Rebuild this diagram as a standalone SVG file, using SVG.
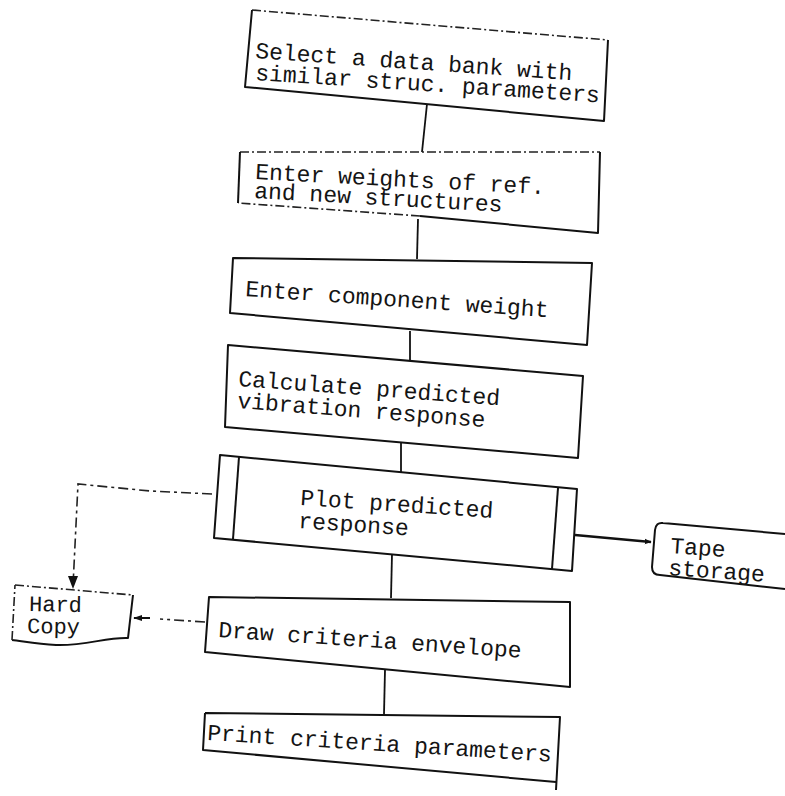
<svg xmlns="http://www.w3.org/2000/svg" width="785" height="796" viewBox="0 0 785 796">
  <defs>
    <style>
      .box { fill: none; stroke: #111; stroke-width: 2; stroke-linejoin: round; }
      .edge { fill: none; stroke: #111; stroke-width: 2; }
      .dash { fill: none; stroke: #222; stroke-width: 1.6; stroke-dasharray: 9 3 2 3; }
      .link { fill: none; stroke: #111; stroke-width: 1.8; }
      .dlink { fill: none; stroke: #222; stroke-width: 1.6; stroke-dasharray: 10 4 3 4; }
      .lbl { font-family: "Liberation Mono", "DejaVu Sans Mono", monospace; font-size: 23px; fill: #141414; }
      .lbl2 { font-family: "Liberation Mono", "DejaVu Sans Mono", monospace; font-size: 22px; fill: #141414; }
    </style>
    <marker id="ahead" viewBox="0 0 10 10" refX="9" refY="5" markerWidth="7" markerHeight="7" orient="auto" markerUnits="userSpaceOnUse">
      <path d="M0,1 L10,5 L0,9 Z" fill="#111"/>
    </marker>
    <marker id="ahead2" viewBox="0 0 10 10" refX="9" refY="5" markerWidth="9" markerHeight="9" orient="auto" markerUnits="userSpaceOnUse">
      <path d="M0,1.5 L10,5 L0,8.5 Z" fill="#111"/>
    </marker>
  </defs>

  <rect x="0" y="0" width="785" height="796" fill="#ffffff"/>

  <!-- connectors -->
  <g id="connectors">
    <line class="link" x1="427" y1="104" x2="422" y2="152"/>
    <line class="link" x1="418" y1="219" x2="417" y2="259"/>
    <line class="link" x1="410" y1="331" x2="410" y2="360"/>
    <line class="link" x1="401" y1="443" x2="401" y2="473"/>
    <line class="link" x1="392" y1="554" x2="391" y2="598"/>
    <line class="link" x1="385" y1="670" x2="384" y2="714"/>
    <!-- plot -> tape storage -->
    <line x1="575" y1="535" x2="651" y2="542" stroke="#111" stroke-width="2.4" marker-end="url(#ahead)"/>
    <!-- plot -> hard copy -->
    <polyline class="dlink" points="212,494 150,491 78,484 73,586"/>
    <path d="M68,576 L73,589 L78,576 Z" fill="#111"/>
    <!-- draw envelope -> hard copy -->
    <line class="dlink" x1="205" y1="622" x2="160" y2="619"/>
    <line x1="150" y1="618" x2="134" y2="618" stroke="#111" stroke-width="2" marker-end="url(#ahead2)"/>
  </g>

  <!-- Select a data bank -->
  <g id="n-select">
    <path class="dash" d="M252,10 L608,40"/>
    <path class="box" d="M608,40 L604,121 L245,87 L252,10"/>
    <text class="lbl" x="255" y="58" transform="rotate(4 255 58)">Select a data bank with</text>
    <text class="lbl" x="255" y="80" transform="rotate(3.7 255 80)">similar struc. parameters</text>
  </g>

  <!-- Enter weights -->
  <g id="n-weights">
    <path class="dash" d="M240,152 L600,152"/>
    <path class="box" d="M600,152 L598,233 L420,216"/>
    <path class="dash" d="M420,216 L238,203"/>
    <path class="box" d="M238,203 L240,152"/>
    <text class="lbl" x="255" y="179" transform="rotate(3 255 179)">Enter weights of ref.</text>
    <text class="lbl" x="254" y="198" transform="rotate(3.2 254 198)">and new structures</text>
  </g>

  <!-- Enter component weight -->
  <g id="n-component">
    <path class="box" d="M233,258 L592,263 L587,345 L230,313 Z"/>
    <text class="lbl" x="245" y="296" transform="rotate(4 245 296)">Enter component weight</text>
  </g>

  <!-- Calculate predicted vibration response -->
  <g id="n-calculate">
    <path class="box" d="M228,345 L583,376 L578,458 L225,427 Z"/>
    <text class="lbl" x="238" y="386" transform="rotate(4.2 238 386)">Calculate predicted</text>
    <text class="lbl" x="237" y="408" transform="rotate(4.4 237 408)">vibration response</text>
  </g>

  <!-- Plot predicted response (predefined process) -->
  <g id="n-plot">
    <path class="box" d="M220,455 L577,489 L572,571 L214,538 Z"/>
    <line class="edge" x1="239" y1="457" x2="233" y2="539"/>
    <line class="edge" x1="558" y1="488" x2="552" y2="569"/>
    <text class="lbl" x="300" y="505" transform="rotate(3.8 300 505)">Plot predicted</text>
    <text class="lbl" x="298" y="528" transform="rotate(3.8 298 528)">response</text>
  </g>

  <!-- Tape storage -->
  <g id="n-tape">
    <path class="box" d="M785,534 L663,523 Q656,522 655,530 L652,567 Q652,575 660,575 L785,589"/>
    <text class="lbl" x="670" y="553" transform="rotate(4 670 553)">Tape</text>
    <text class="lbl" x="668" y="575" transform="rotate(4 668 575)">storage</text>
  </g>

  <!-- Hard Copy (document) -->
  <g id="n-hardcopy">
    <path class="dash" d="M15,585 L133,595"/>
    <path class="box" d="M133,595 L128,638 C106,637 86,646 56,645 C36,644 22,641 12,640"/>
    <path class="dash" d="M12,640 L15,585"/>
    <text class="lbl2" x="29" y="611" transform="rotate(1 29 611)">Hard</text>
    <text class="lbl2" x="27" y="633" transform="rotate(1 27 633)">Copy</text>
  </g>

  <!-- Draw criteria envelope -->
  <g id="n-draw">
    <path class="box" d="M209,597 L570,602 L570,687 L205,652 Z"/>
    <text class="lbl" x="218" y="637" transform="rotate(3.9 218 637)">Draw criteria envelope</text>
  </g>

  <!-- Print criteria parameters -->
  <g id="n-print">
    <path class="box" d="M205,713 L560,717 L556,790 M556,782 L203,750 L205,713"/>
    <text class="lbl" x="207" y="740" transform="rotate(3.6 207 740)">Print criteria parameters</text>
  </g>
</svg>
